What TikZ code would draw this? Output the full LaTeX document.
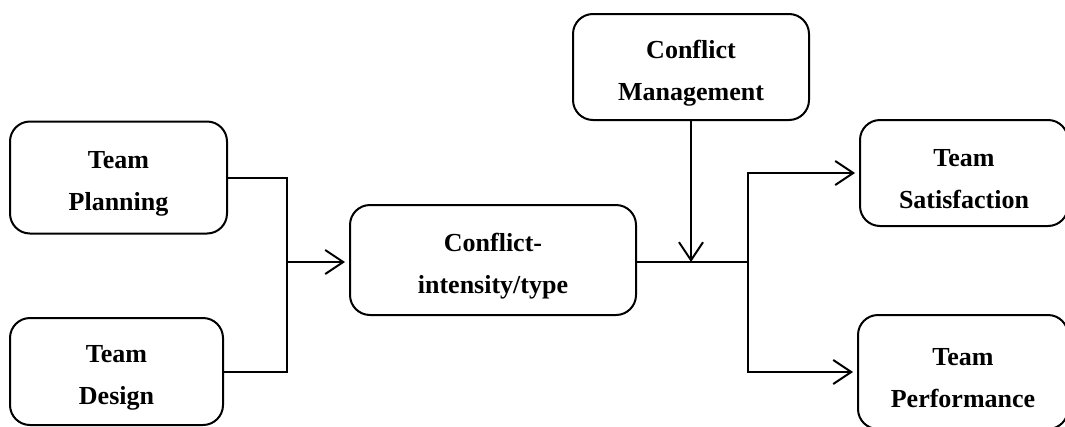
\documentclass[tikz,border=0pt]{standalone}
\usepackage{fontspec}
\setmainfont{Liberation Serif}
\usetikzlibrary{arrows.meta}
\begin{document}
\begin{tikzpicture}[x=1pt,y=1pt,
  box/.style={draw, line width=2pt, rounded corners=20pt, inner sep=0pt,
    label={[boxtext]center:#1}},
  boxtext/.style={align=center, inner sep=0pt, yshift=-6pt,
    font=\fontsize{26}{42}\selectfont\bfseries},
  conn/.style={line width=2pt},
  arr/.style={conn, -{Straight Barb[length=18pt,width=24pt,line width=2pt]}, shorten >=4pt}]
\useasboundingbox (0,0) rectangle (1065,-426);
\fill[white] (0,0) rectangle (1065,-426);
\node[box={Team\\Planning}, minimum width=217pt, minimum height=112pt] (plan) at (118.5,-177.5) {};
\node[box={Team\\Design}, minimum width=213pt, minimum height=107pt] (des) at (116.5,-371.5) {};
\node[box={Conflict-\\intensity/type}, minimum width=286pt, minimum height=110pt] (ci) at (493,-260) {};
\node[box={Conflict\\Management}, minimum width=236pt, minimum height=106pt] (cm) at (691,-67) {};
\node[box={Team\\Satisfaction}, minimum width=208pt, minimum height=106pt] (sat) at (964,-173) {};
\node[box={Team\\Performance}, minimum width=210pt, minimum height=114pt] (perf) at (963,-372) {};
\coordinate (j1) at (287,-262);
\coordinate (j2) at (748,-262);
\draw[conn] (plan.east) -| (j1);
\draw[conn] (des.east) -| (j1);
\draw[arr] (j1) -- (ci.west |- j1);
\draw[conn] (ci.east |- j2) -- (j2);
\draw[arr] (j2) |- (sat.west);
\draw[arr] (j2) |- (perf.west);
\draw[arr, shorten >=0pt] (cm.south) -- (cm.south |- j2);
\end{tikzpicture}
\end{document}
